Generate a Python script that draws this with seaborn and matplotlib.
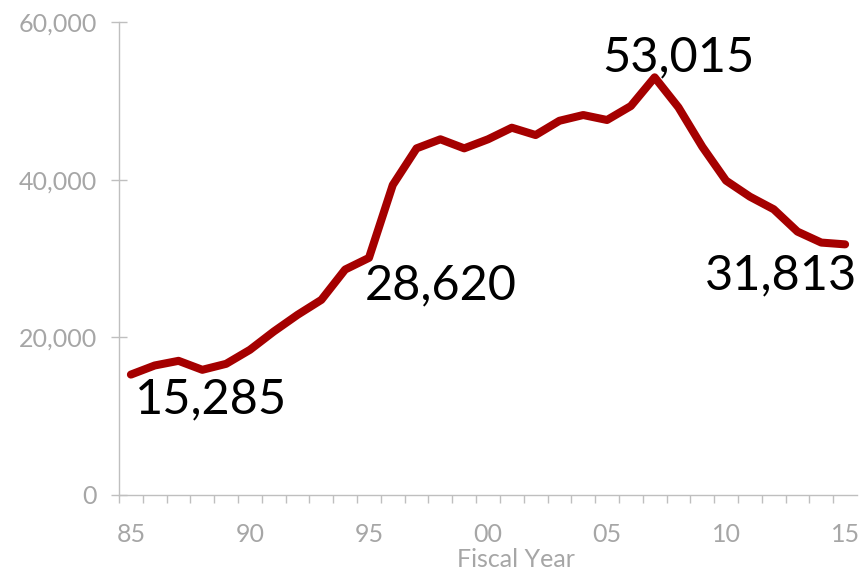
import matplotlib
matplotlib.use("Agg")
import matplotlib.pyplot as plt
import seaborn as sns
import pandas as pd
import numpy as np

years = list(range(1985, 2016))
tick_labels = ["85", "90", "95", "00", "05", "10", "15"]
values = [15285, 16440, 17030, 15890, 16650, 18430, 20750, 22870, 24770, 28620,
          30100, 39350, 44000, 45150, 44000, 45150, 46620, 45690, 47500, 48230,
          47600, 49370, 53015, 49200, 44210, 39900, 37870, 36270, 33430, 32040, 31813]
label_years = [1985, 1994, 2007, 2015]

sns.set_theme(style="white")
plt.rcParams['font.family'] = ['Lato', 'DejaVu Sans']

df = pd.DataFrame({"pos": np.arange(len(years)), "value": values, "year": years})

fig = plt.figure(figsize=(8.66, 5.76), dpi=100)
ax = fig.add_axes([119/866, 1-495/576, (857-119)/866, (495-22.3)/576])

sns.lineplot(data=df, x="pos", y="value", ax=ax, color="#A50000", linewidth=5.8,
             solid_capstyle="round", solid_joinstyle="round")

ax.set_xlim(-0.5, len(years) - 0.5)
ax.set_ylim(0, 60000)

gray = "#A6A6A6"
spine_c = "#BFBFBF"
for s in ["top", "right"]:
    ax.spines[s].set_visible(False)
for s in ["left", "bottom"]:
    ax.spines[s].set_color(spine_c)
    ax.spines[s].set_linewidth(1.0)

ax.set_yticks([0, 20000, 40000, 60000])
ax.set_yticklabels([f"{v:,}" for v in [0, 20000, 40000, 60000]])
ax.tick_params(axis="y", direction="inout", length=12, width=1, color=spine_c,
               labelcolor=gray, labelsize=18, pad=10, left=True)

major_pos = [years.index(1985 + 5 * i) for i in range(len(tick_labels))]
ax.set_xticks(major_pos)
ax.set_xticklabels(tick_labels)
ax.set_xticks(np.arange(-0.5, len(years) - 1, 1.0), minor=True)
ax.tick_params(axis="x", which="major", length=0, labelcolor=gray, labelsize=18, pad=20)
ax.tick_params(axis="x", which="minor", direction="out", length=6, width=1,
               color=spine_c, bottom=True)

ax.set_xlabel("Fiscal Year", color=gray, fontsize=18)
ax.xaxis.set_label_coords(0.538, -0.136)
ax.xaxis.label.set_va("center")
ax.set_ylabel("")

offsets = {1985: (4, -39, "left"), 1994: (20, -30, "left"),
           2007: (24, 6, "center"), 2015: (12, -45, "right")}
for y in label_years:
    i = years.index(y)
    dx, dy, ha = offsets[y]
    ax.annotate(f"{values[i]:,}", xy=(i, values[i]), xytext=(dx, dy),
                textcoords="offset pixels", ha=ha, va="baseline",
                fontsize=35, color="black", annotation_clip=False)

fig.savefig("out.png", dpi=100)
